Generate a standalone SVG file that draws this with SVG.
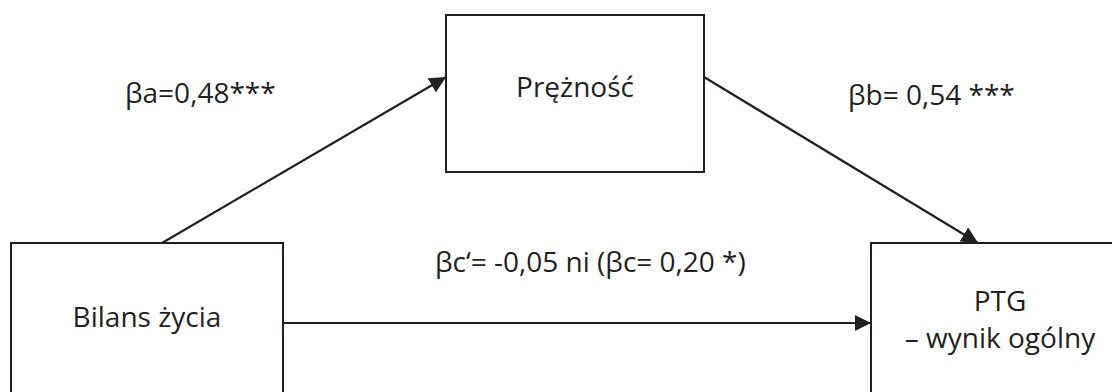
<svg xmlns="http://www.w3.org/2000/svg" width="1112" height="392" viewBox="0 0 1112 392">
  <style>
    .box { fill: #ffffff; stroke: #231f20; stroke-width: 2; }
    .lbl { font-family: "Open Sans", "DejaVu Sans", sans-serif; font-size: 28px; fill: #231f20; }
    .edge { stroke: #231f20; stroke-width: 2.2; fill: none; marker-end: url(#head); }
  </style>
  <defs>
    <marker id="head" viewBox="0 0 10 10" refX="10" refY="5" markerWidth="7.5" markerHeight="7.5" markerUnits="strokeWidth" orient="auto">
      <path d="M0,0 L10,5 L0,10 z" fill="#231f20"/>
    </marker>
  </defs>

  <g id="connectors">
    <line class="edge" x1="162" y1="243" x2="446" y2="77"/>
    <line class="edge" x1="704" y1="77" x2="978" y2="243"/>
    <line class="edge" x1="283" y1="323" x2="871" y2="323"/>
  </g>

  <g id="node-bilans">
    <rect class="box" x="11" y="243" width="272" height="160"/>
    <text class="lbl" x="147" y="327" text-anchor="middle">Bilans życia</text>
  </g>

  <g id="node-preznosc">
    <rect class="box" x="446" y="15" width="258" height="157"/>
    <text class="lbl" x="575" y="97" text-anchor="middle">Prężność</text>
  </g>

  <g id="node-ptg">
    <rect class="box" x="871" y="243" width="260" height="160"/>
    <text class="lbl" x="1000" y="311" text-anchor="middle">PTG</text>
    <text class="lbl" x="1000" y="348" text-anchor="middle">– wynik ogólny</text>
  </g>

  <g id="edge-labels">
    <text class="lbl" x="125" y="103">βa=0,48***</text>
    <text class="lbl" x="848" y="105">βb= 0,54 ***</text>
    <text class="lbl" x="435" y="272">βc‘= -0,05 ni (βc= 0,20 *)</text>
  </g>
</svg>
